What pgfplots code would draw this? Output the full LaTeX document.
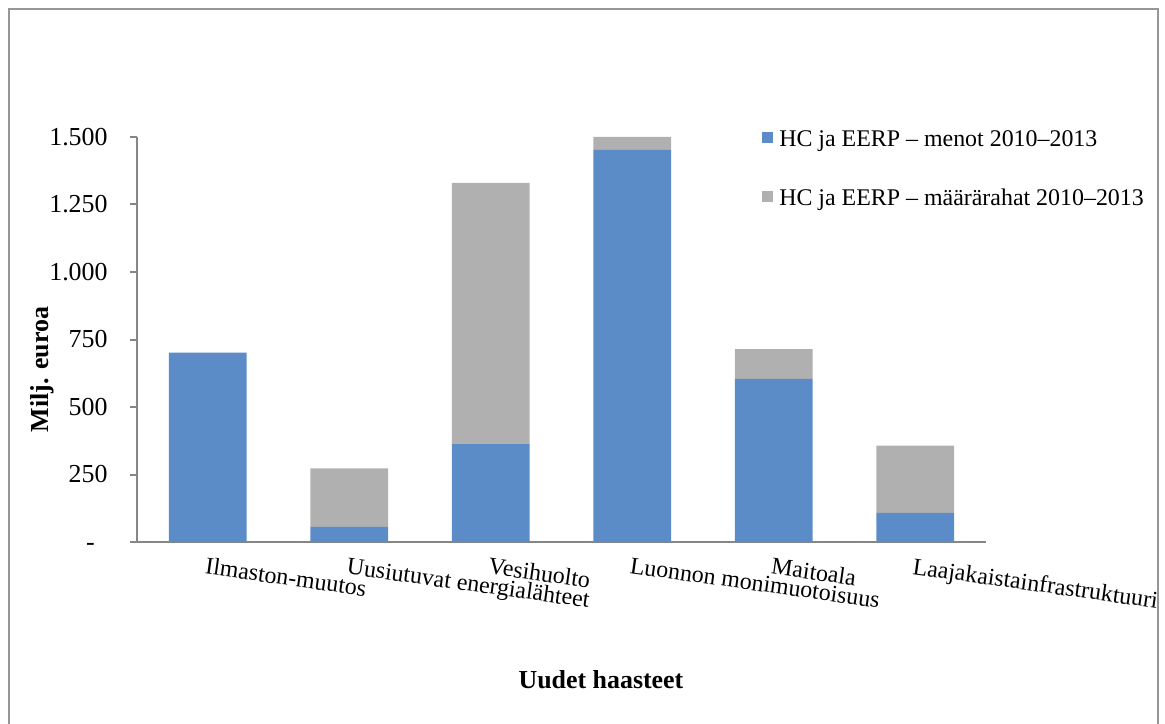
\documentclass[border=0pt]{standalone}
\usepackage{fontspec}
\setmainfont{Liberation Serif}
\usepackage{pgfplots}
\usepackage{pgfplotstable}
\pgfplotsset{compat=1.18}

\definecolor{menot}{RGB}{91,140,200}
\definecolor{maara}{RGB}{176,176,176}
\definecolor{axgray}{RGB}{134,134,134}
\definecolor{framegray}{RGB}{150,150,150}

% menot = spent, maara = rest of the allocation (stacked on top)
\pgfplotstableread{
x menot maara
0 701 0
1 56  217
2 364 966
3 1452 48
4 604 110
5 108 249
}\haasteet

\begin{document}
\begin{tikzpicture}
\begin{axis}[
    scale only axis,
    width=424.5bp, height=202.5bp,
    ybar stacked,
    bar width=0.55,
    xmin=-0.5, xmax=5.5,
    ymin=0, ymax=1500,
    axis x line=bottom, axis y line=left,
    axis line style={axgray, line width=1bp, -},
    tick align=outside,
    major tick length=3.5bp,
    major tick style={axgray, line width=1bp},
    major x tick style={draw=none},
    xtick={0,...,5},
    xticklabels={Ilmaston-muutos, Uusiutuvat energialähteet, Vesihuolto,
        Luonnon monimuotoisuus, Maitoala, Laajakaistainfrastruktuuri},
    xticklabel style={rotate=-8, anchor=north west, inner sep=0pt, yshift=-4bp,
        font=\fontsize{12}{14}\selectfont},
    ytick={0,250,500,750,1000,1250,1500},
    yticklabels={{-\phantom{0}},250,500,750,{1.000},{1.250},{1.500}},
    yticklabel style={anchor=east, inner sep=0pt, xshift=-11bp,
        font=\fontsize{13}{15}\selectfont},
    every axis y label/.style={at={(rel axis cs:-0.1037,0.426)}, anchor=base,
        rotate=90, font=\fontsize{13}{15}\selectfont\bfseries},
    every axis x label/.style={at={(rel axis cs:0.5465,-0.3605)}, anchor=base,
        font=\fontsize{13}{15}\selectfont\bfseries},
    ylabel={Milj. euroa},
    xlabel={Uudet haasteet},
    legend style={at={(0.736,1.018)}, anchor=north west, draw=none, fill=none,
        inner sep=0pt, row sep=20bp,
        font=\fontsize{12}{14}\selectfont,
        nodes={inner sep=0pt}},
    legend cell align=left,
    legend image code/.code={\fill[#1] (0bp,-1.75bp) rectangle (5.5bp,3.75bp);
        \path (8.5bp,0bp);},
]
\addplot[fill=menot, draw=none] table[x=x, y=menot] {\haasteet};
\addplot[fill=maara, draw=none] table[x=x, y=maara] {\haasteet};
\legend{HC ja EERP – menot 2010–2013, HC ja EERP – määrärahat 2010–2013}
\coordinate (c0) at (rel axis cs:0,0);
\end{axis}
\draw[framegray, line width=1.2bp]
    ([shift={(-64bp,-96bp)}]c0) rectangle ([shift={(510.5bp,266.5bp)}]c0);
\pgfresetboundingbox
\useasboundingbox ([shift={(-68.5bp,-91bp)}]c0) rectangle ([shift={(514bp,271bp)}]c0);
\end{tikzpicture}
\end{document}
